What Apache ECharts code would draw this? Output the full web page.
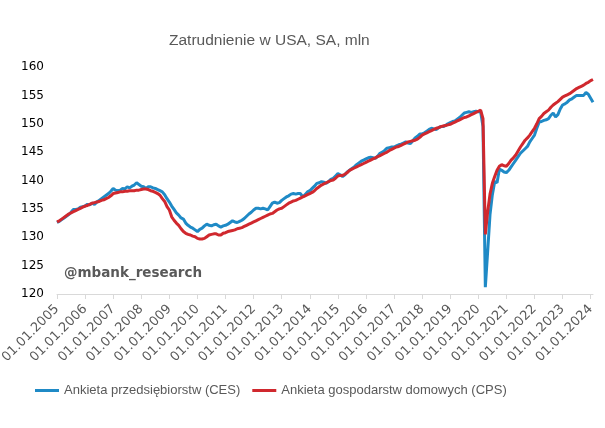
<!DOCTYPE html>
<html>
<head>
<meta charset="utf-8">
<script src="https://cdn.jsdelivr.net/npm/echarts@6/dist/echarts.min.js"></script>
<style>html,body{margin:0;padding:0;background:#fff}#c{width:605px;height:428px}</style>
</head>
<body>
<div id="c"></div>
<script>
// monthly data, Jan 2005 .. Feb 2024
var startYear = 2005;
var ces = [
  132.6,132.8,133.1,133.4,133.7,134.0,134.4,134.9,134.9,135.0,135.3,135.4,
  135.5,135.8,135.7,136.0,135.8,136.2,136.5,136.8,137.1,137.4,137.7,138.1,
  138.6,138.3,138.2,138.3,138.6,138.5,138.9,138.7,139.0,139.2,139.6,139.3,
  139.0,138.9,138.6,138.9,138.9,138.7,138.6,138.4,138.2,138.0,137.5,136.8,
  136.2,135.5,134.9,134.3,133.9,133.4,133.2,132.5,132.1,131.8,131.6,131.3,
  131.0,131.4,131.6,132.0,132.3,132.1,132.0,132.2,132.3,132.0,131.8,132.0,
  132.1,132.3,132.6,132.9,132.7,132.6,132.8,133.0,133.3,133.7,134.1,134.4,
  134.8,135.1,135.1,135.0,135.1,135.0,134.8,135.4,136.0,136.2,136.0,136.1,
  136.5,136.8,137.1,137.3,137.6,137.7,137.6,137.7,137.7,137.1,137.5,138.0,
  138.2,138.6,139.0,139.5,139.6,139.8,139.7,139.5,139.8,140.2,140.4,140.8,
  141.2,141.0,140.7,141.0,141.5,141.8,142.1,142.4,142.8,143.1,143.4,143.6,
  143.8,144.0,144.1,144.0,143.9,144.3,144.8,145.0,145.3,145.7,145.8,145.9,
  145.9,146.1,146.3,146.4,146.6,146.8,146.6,146.5,147.0,147.5,147.8,148.2,
  148.2,148.4,148.7,149.0,149.2,149.1,149.0,149.3,149.5,149.5,149.7,150.0,
  150.2,150.4,150.5,150.8,151.1,151.5,151.9,152.0,152.1,152.0,152.1,152.2,
  152.1,152.1,149.5,121.2,127.5,134.0,137.5,139.8,139.6,142.0,141.8,141.5,
  141.4,141.8,142.4,143.0,143.6,144.2,144.8,145.2,145.6,146.0,146.8,147.4,
  148.0,149.2,150.3,150.4,150.6,150.7,150.9,151.5,151.9,151.2,151.6,152.6,
  153.3,153.5,153.8,154.2,154.4,154.7,155.0,155.0,155.0,155.0,155.5,155.2,
  154.5,153.8
];
var cps = [
  132.7,132.9,133.2,133.5,133.8,134.1,134.3,134.5,134.7,134.9,135.1,135.3,
  135.5,135.6,135.8,136.0,136.1,136.2,136.3,136.5,136.6,136.8,137.0,137.3,
  137.7,137.8,137.9,138.0,138.0,138.1,138.1,138.2,138.2,138.2,138.3,138.3,
  138.4,138.5,138.5,138.4,138.2,138.1,137.9,137.7,137.4,136.8,136.3,135.4,
  134.8,133.6,133.0,132.5,132.1,131.5,131.0,130.7,130.5,130.4,130.2,130.1,
  129.8,129.7,129.7,129.8,130.1,130.4,130.5,130.6,130.6,130.4,130.4,130.7,
  130.8,131.0,131.1,131.2,131.3,131.5,131.6,131.7,131.9,132.1,132.3,132.5,
  132.7,132.9,133.1,133.3,133.5,133.7,133.9,134.1,134.2,134.5,134.8,135.0,
  135.1,135.4,135.7,136.0,136.2,136.4,136.5,136.7,136.9,137.1,137.3,137.5,
  137.7,137.9,138.2,138.6,138.9,139.2,139.4,139.6,139.8,140.0,140.1,140.4,
  140.8,140.9,140.9,141.1,141.4,141.8,142.0,142.2,142.4,142.6,142.8,143.0,
  143.2,143.4,143.6,143.8,144.0,144.2,144.4,144.6,144.8,145.0,145.3,145.5,
  145.7,145.9,146.0,146.2,146.4,146.6,146.8,146.9,147.0,147.1,147.3,147.6,
  148.0,148.2,148.4,148.6,148.8,149.0,149.2,149.3,149.5,149.6,149.7,149.8,
  149.9,150.1,150.3,150.5,150.7,150.9,151.1,151.2,151.4,151.6,151.8,152.0,
  152.2,152.4,150.9,130.5,134.5,137.6,139.5,140.7,141.8,142.5,142.8,142.6,
  142.5,143.0,143.6,144.0,144.5,145.2,145.9,146.5,147.1,147.5,148.0,148.6,
  149.2,150.0,150.9,151.3,151.8,152.1,152.4,152.9,153.3,153.6,153.9,154.3,
  154.7,154.9,155.1,155.3,155.6,155.9,156.2,156.4,156.6,156.8,157.1,157.3,
  157.6,157.8
];
var seriesNames = ['Ankieta przedsiębiorstw (CES)', 'Ankieta gospodarstw domowych (CPS)'];
var titleText = 'Zatrudnienie w USA, SA, mln';
var watermark = '@mbank_research';
var yTicks = {min: 120, max: 160, interval: 5};

var categories = [];
for (var i = 0; i < ces.length; i++) {
  var y = startYear + Math.floor(i / 12);
  var m = (i % 12) + 1;
  categories.push('01.' + (m < 10 ? '0' + m : m) + '.' + y);
}

var chart = echarts.init(document.getElementById('c'), null, {renderer: 'canvas'});
chart.setOption({
  animation: false,
  backgroundColor: '#ffffff',
  title: {
    text: titleText, left: 169, top: 33, padding: 0,
    textStyle: {fontFamily: "'Liberation Sans',sans-serif", fontSize: 15.5, fontWeight: 'normal', color: '#595959'}
  },
  graphic: [{
    type: 'text', left: 64, top: 266,
    style: {text: watermark, font: "bold 13.5px 'DejaVu Sans', sans-serif", fill: '#595959'}
  }],
  legend: {
    left: 30, top: 379, itemGap: 12, itemWidth: 24, itemHeight: 3, icon: 'rect',
    textStyle: {fontFamily: "'Liberation Sans',sans-serif", fontSize: 13, color: '#595959'},
    data: seriesNames
  },
  grid: {left: 57, right: 12, top: 67, bottom: 134, containLabel: false, outerBoundsMode: 'none'},
  xAxis: {
    type: 'category', boundaryGap: false, data: categories,
    axisLine: {lineStyle: {color: '#D9D9D9', width: 1}},
    axisTick: {interval: 11, length: 5, lineStyle: {color: '#D9D9D9'}},
    axisLabel: {interval: 11, rotate: 45, margin: 13, color: '#595959', fontSize: 13, fontFamily: "'DejaVu Sans',sans-serif"},
    splitLine: {show: false}
  },
  yAxis: {
    type: 'value', min: yTicks.min, max: yTicks.max, interval: yTicks.interval,
    axisLine: {show: false}, axisTick: {show: false}, splitLine: {show: false},
    axisLabel: {color: '#000000', fontSize: 12, margin: 13, fontFamily: "'DejaVu Sans',sans-serif"}
  },
  series: [
    {name: seriesNames[0], type: 'line', data: ces, showSymbol: false, symbol: 'none',
     lineStyle: {color: '#1F8AC6', width: 3}, itemStyle: {color: '#1F8AC6'}},
    {name: seriesNames[1], type: 'line', data: cps, showSymbol: false, symbol: 'none',
     lineStyle: {color: '#D0282E', width: 3}, itemStyle: {color: '#D0282E'}}
  ]
});
</script>
</body>
</html>
